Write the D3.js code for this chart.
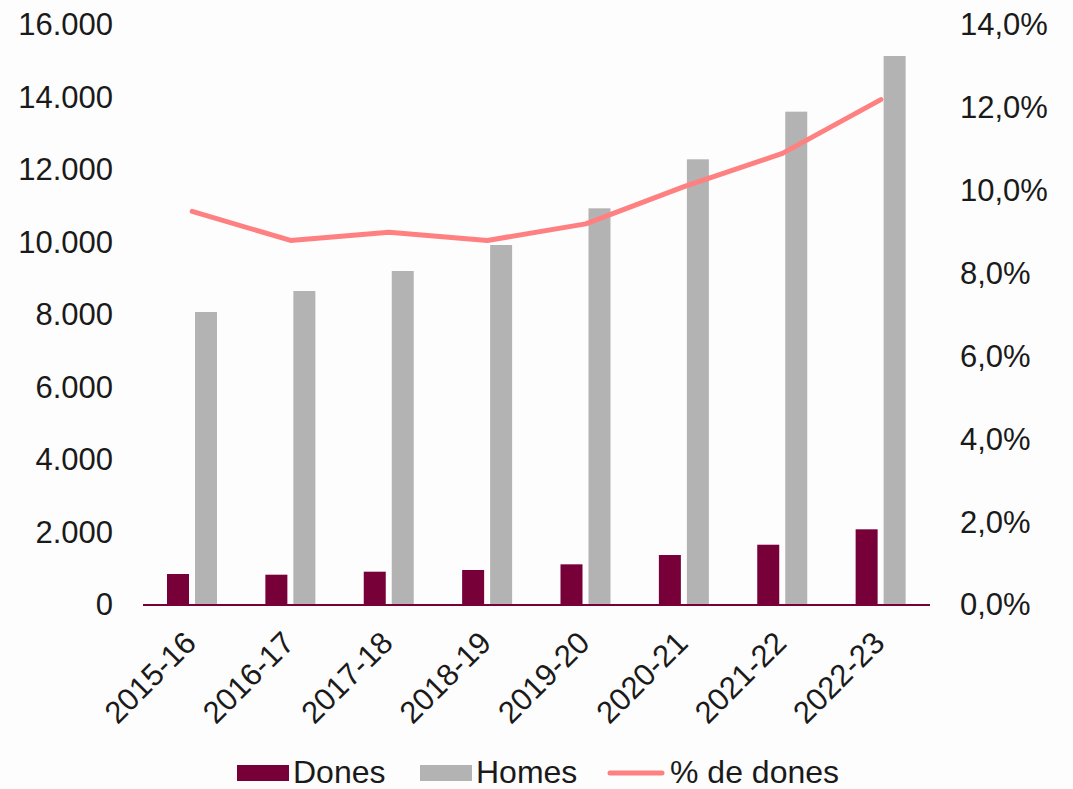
<!DOCTYPE html>
<html>
<head>
<meta charset="utf-8">
<script src="https://cdn.jsdelivr.net/npm/d3@7"></script>
<style>
  html, body { margin: 0; padding: 0; background: #fdfdfd; }
  svg { display: block; }
  text { font-family: "Liberation Sans", Arial, sans-serif; fill: #1a1a1a; }
</style>
</head>
<body>
<svg id="chart" width="1073" height="789"></svg>
<script>
// Students by academic year: women, men and share of women
const categories = ["2015-16", "2016-17", "2017-18", "2018-19", "2019-20", "2020-21", "2021-22", "2022-23"];
const dones = [855, 836, 919, 966, 1122, 1379, 1663, 2088];
const homes = [8083, 8662, 9214, 9931, 10943, 12295, 13609, 15145];
const pctDones = [9.5, 8.8, 9.0, 8.8, 9.2, 10.1, 10.9, 12.2];
const leftTicks = [0, 2000, 4000, 6000, 8000, 10000, 12000, 14000, 16000];
const rightTicks = [0, 2, 4, 6, 8, 10, 12, 14];
const seriesNames = ["Dones", "Homes", "% de dones"];

const colDones = "#780038";
const colHomes = "#b3b3b3";
const colLine = "#ff8080";
const fontFamily = "Liberation Sans, Arial, sans-serif";

const svg = d3.select("#chart");
const plot = { left: 143, right: 930, top: 25, bottom: 605 };

const x = d3.scaleBand().domain(categories).range([plot.left, plot.right]).padding(0);
const inner = d3.scaleBand().domain(["Dones", "Homes"]).range([24, 74]).paddingInner(6 / 28).paddingOuter(0);
const yL = d3.scaleLinear().domain([0, 16000]).range([plot.bottom, plot.top]);
const yR = d3.scaleLinear().domain([0, 14]).range([plot.bottom, plot.top]);

const locale = d3.formatLocale({ decimal: ",", thousands: ".", grouping: [3], currency: ["", "€"] });
const fmtL = locale.format(",.0f");
const fmtR = v => d3.format(".1f")(v).replace(".", ",") + "%";

// Left axis
const axisL = svg.append("g")
  .attr("transform", `translate(${plot.left},0)`)
  .call(d3.axisLeft(yL).tickValues(leftTicks).tickFormat(fmtL).tickSize(0).tickPadding(30));
axisL.select(".domain").remove();
axisL.selectAll("text").attr("font-size", 31).attr("fill", "#1a1a1a").attr("font-family", fontFamily);

// Right axis
const axisR = svg.append("g")
  .attr("transform", `translate(${plot.right},0)`)
  .call(d3.axisRight(yR).tickValues(rightTicks).tickFormat(fmtR).tickSize(0).tickPadding(30));
axisR.select(".domain").remove();
axisR.selectAll("text").attr("font-size", 31).attr("fill", "#1a1a1a").attr("font-family", fontFamily);

// Bars
const rows = categories.map((c, i) => ({ c, dones: dones[i], homes: homes[i], pct: pctDones[i] }));

svg.append("g").selectAll("rect.dones").data(rows).join("rect")
  .attr("class", "dones")
  .attr("x", d => x(d.c) + inner("Dones"))
  .attr("width", inner.bandwidth())
  .attr("y", d => yL(d.dones))
  .attr("height", d => yL(0) - yL(d.dones))
  .attr("fill", colDones);

svg.append("g").selectAll("rect.homes").data(rows).join("rect")
  .attr("class", "homes")
  .attr("x", d => x(d.c) + inner("Homes"))
  .attr("width", inner.bandwidth())
  .attr("y", d => yL(d.homes))
  .attr("height", d => yL(0) - yL(d.homes))
  .attr("fill", colHomes);

// Baseline
svg.append("line")
  .attr("x1", plot.left).attr("x2", plot.right)
  .attr("y1", yL(0)).attr("y2", yL(0))
  .attr("stroke", colDones).attr("stroke-width", 2);

// Share line
const line = d3.line().x(d => x(d.c) + x.bandwidth() / 2).y(d => yR(d.pct));
svg.append("path").datum(rows)
  .attr("d", line)
  .attr("fill", "none")
  .attr("stroke", colLine)
  .attr("stroke-width", 5)
  .attr("stroke-linecap", "round")
  .attr("stroke-linejoin", "round");

// Category labels, rotated
const axisX = svg.append("g")
  .attr("transform", `translate(0,${plot.bottom})`)
  .call(d3.axisBottom(x).tickSize(0).tickPadding(0));
axisX.select(".domain").remove();
axisX.selectAll("text")
  .attr("font-size", 31).attr("fill", "#1a1a1a").attr("font-family", fontFamily)
  .attr("text-anchor", "end")
  .attr("dy", "0.35em")
  .attr("y", 0)
  .attr("transform", "translate(-2,32) rotate(-45)");

// Legend
const legend = svg.append("g");
const legItems = [
  { name: seriesNames[0], type: "rect", color: colDones, x: 237 },
  { name: seriesNames[1], type: "rect", color: colHomes, x: 420 },
  { name: seriesNames[2], type: "line", color: colLine, x: 608 }
];
const legY = 772;
legItems.forEach(it => {
  if (it.type === "rect") {
    legend.append("rect").attr("x", it.x).attr("y", legY - 7).attr("width", 52).attr("height", 16).attr("fill", it.color);
    legend.append("text").attr("x", it.x + 56).attr("y", legY).attr("dy", "0.33em")
      .attr("font-size", 32).text(it.name);
  } else {
    legend.append("line").attr("x1", it.x + 2).attr("x2", it.x + 54).attr("y1", legY + 1).attr("y2", legY + 1)
      .attr("stroke", it.color).attr("stroke-width", 5).attr("stroke-linecap", "round");
    legend.append("text").attr("x", it.x + 62).attr("y", legY).attr("dy", "0.33em")
      .attr("font-size", 32).text(it.name);
  }
});
</script>
</body>
</html>
